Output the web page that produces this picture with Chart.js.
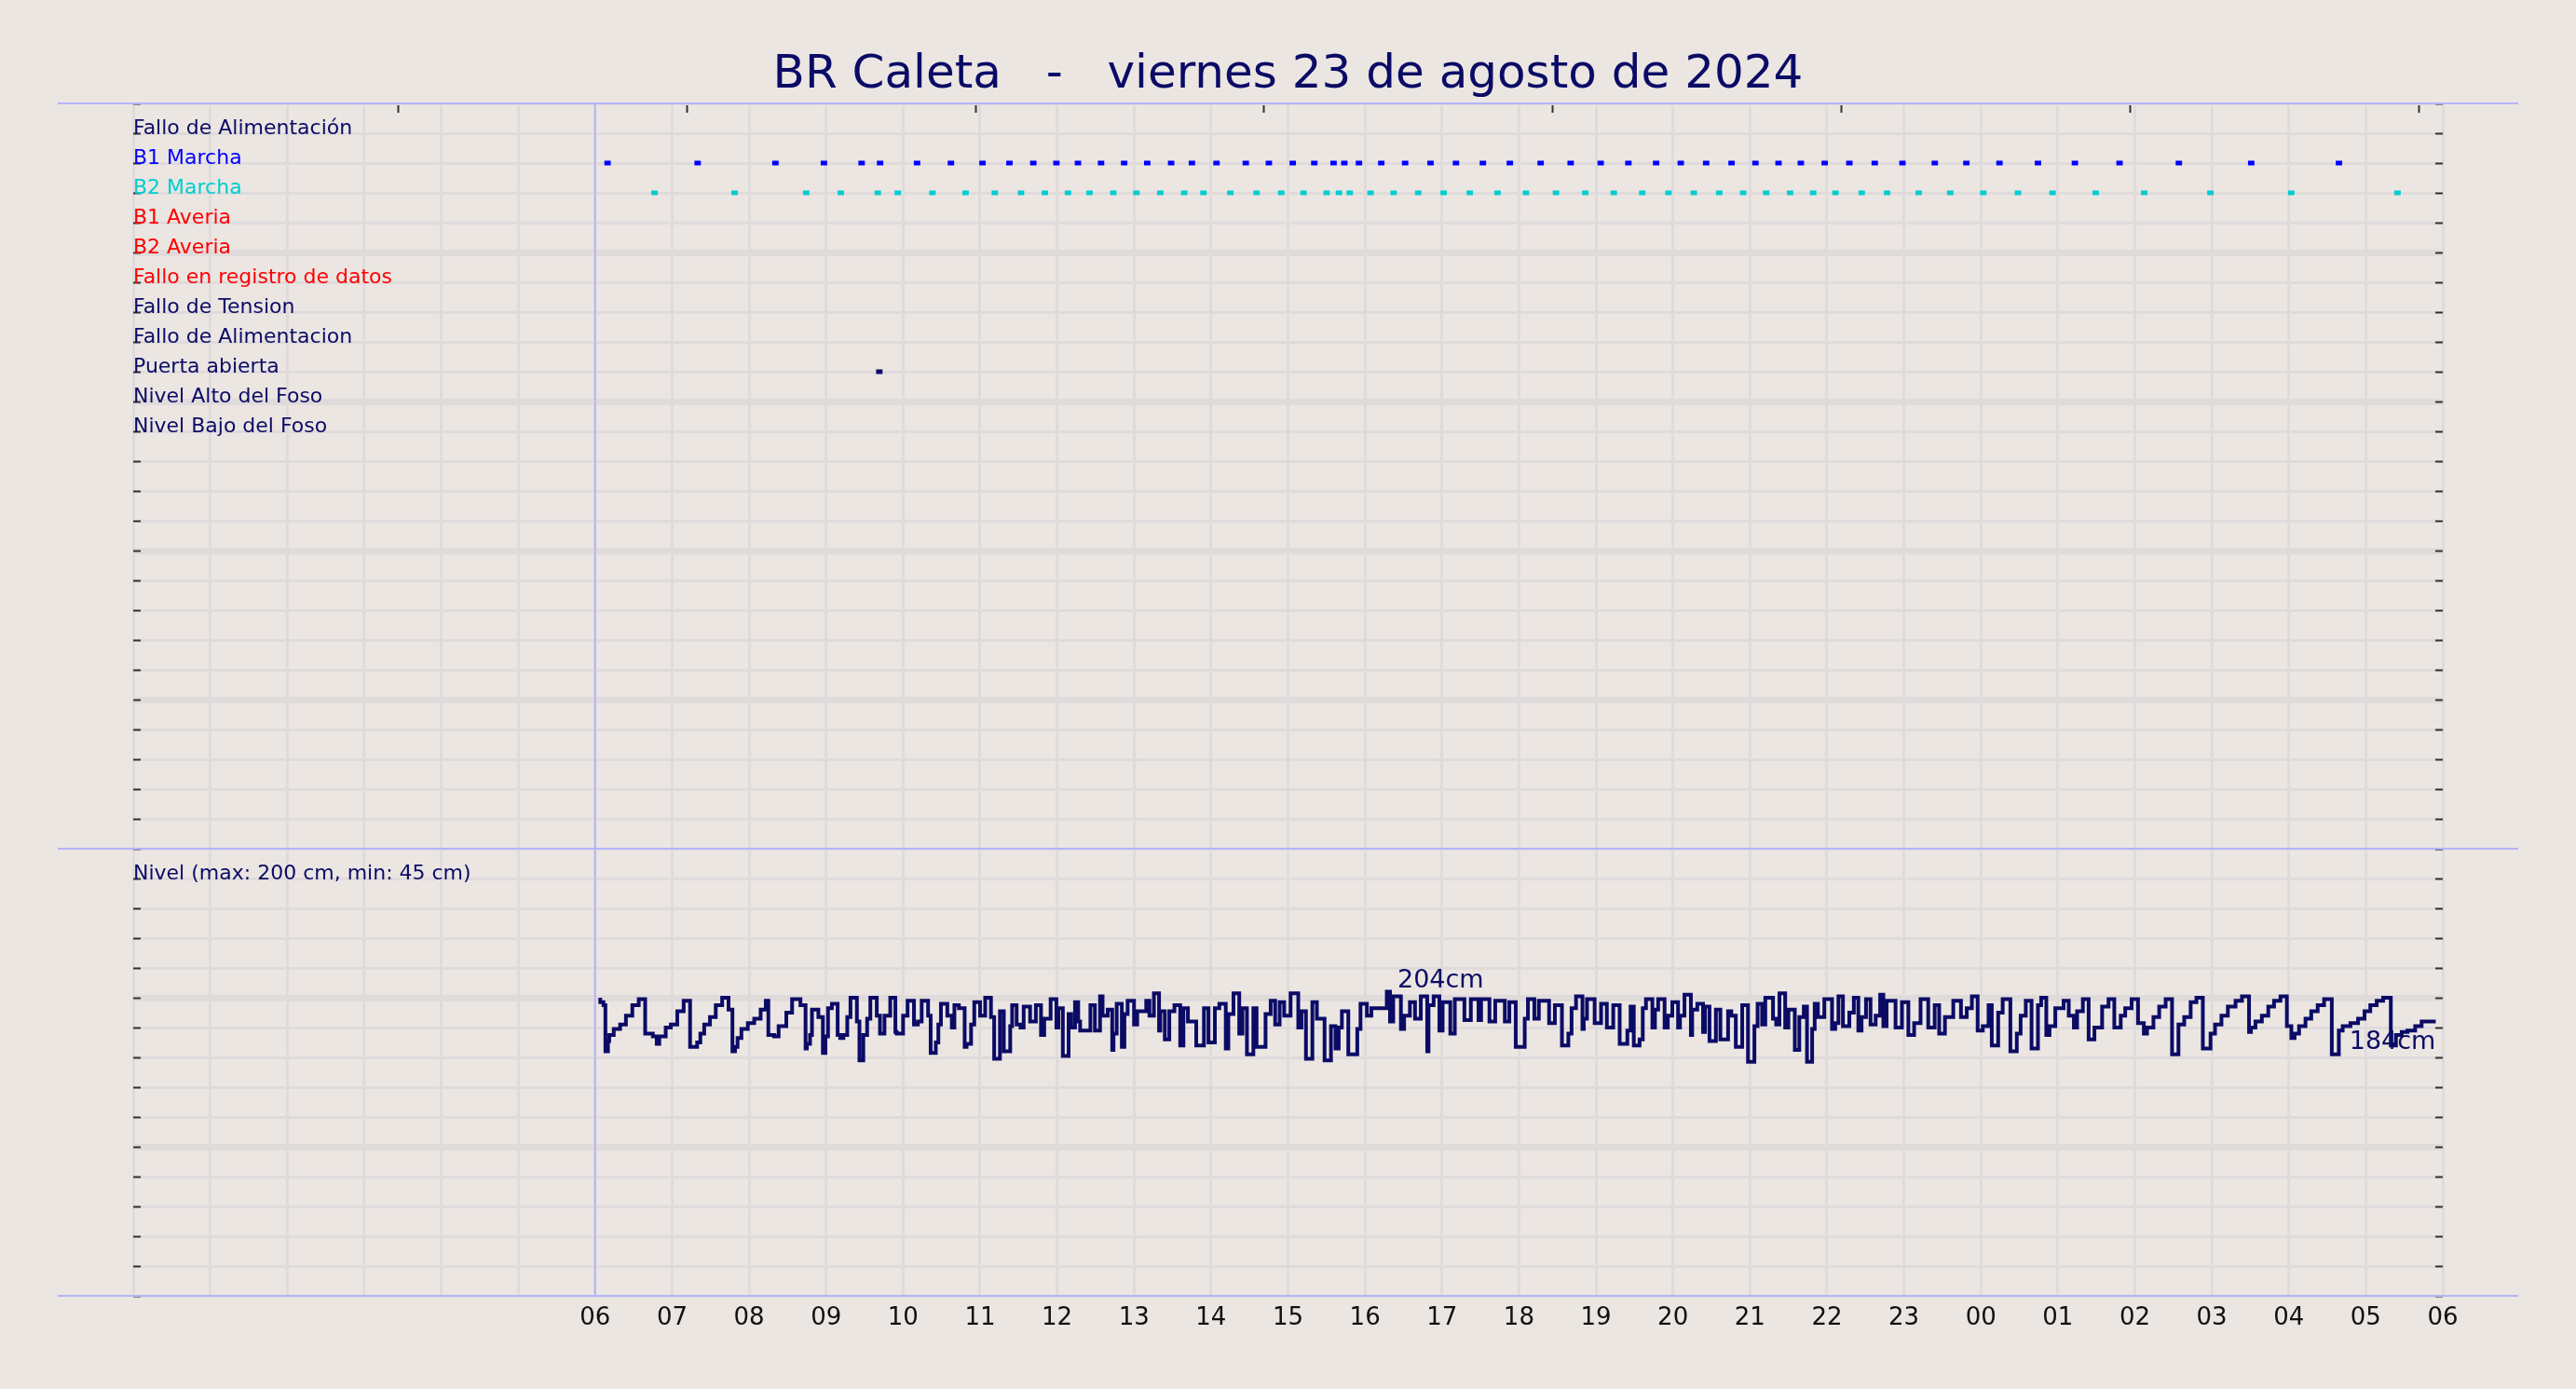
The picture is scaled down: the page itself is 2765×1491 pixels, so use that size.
<!DOCTYPE html>
<html>
<head>
<meta charset="utf-8">
<title>BR Caleta</title>
<script src="https://cdn.jsdelivr.net/npm/chart.js@4.4.1/dist/chart.umd.min.js"></script>
<style>
  html, body { margin: 0; padding: 0; background: #ebe6e2; }
  #wrap { width: 2765px; height: 1491px; position: relative; }
</style>
</head>
<body>
<div id="wrap"><canvas id="grafico"></canvas></div>
<script>
// filas del panel de eventos (de arriba a abajo)
const filas = ['Fallo de Alimentación', 'B1 Marcha', 'B2 Marcha', 'B1 Averia', 'B2 Averia',
  'Fallo en registro de datos', 'Fallo de Tension', 'Fallo de Alimentacion', 'Puerta abierta',
  'Nivel Alto del Foso', 'Nivel Bajo del Foso'];

// etiquetas del eje horario (de 06 a 06 del dia siguiente)
const horasEje = ['06', '07', '08', '09', '10', '11', '12', '13', '14', '15', '16', '17', '18',
  '19', '20', '21', '22', '23', '00', '01', '02', '03', '04', '05', '06'];

// marcas cortas del borde superior (horas)
const marcasSup = [3.44, 7.19, 10.94, 14.69, 18.44, 22.19, 25.94, 29.69];

// arranques de bombas (hora de inicio, horas desde las 00 del dia 23)
const b1Marcha = [6.12, 7.29, 8.30, 8.93, 9.42, 9.66, 10.14, 10.58, 10.99, 11.34, 11.65, 11.95,
  12.23, 12.53, 12.83, 13.13, 13.44, 13.71, 14.03, 14.41, 14.71, 15.02, 15.30, 15.55, 15.69, 15.88,
  16.17, 16.48, 16.81, 17.14, 17.49, 17.84, 18.24, 18.63, 19.02, 19.38, 19.74, 20.06, 20.39, 20.72,
  21.03, 21.33, 21.62, 21.93, 22.25, 22.58, 22.94, 23.36, 23.77, 24.20, 24.70, 25.18, 25.76, 26.53,
  27.47, 28.61];
const b2Marcha = [6.73, 7.77, 8.70, 9.15, 9.63, 9.89, 10.34, 10.77, 11.15, 11.49, 11.80, 12.10,
  12.38, 12.69, 12.99, 13.30, 13.61, 13.86, 14.21, 14.55, 14.87, 15.16, 15.46, 15.62, 15.76, 16.03,
  16.33, 16.65, 16.98, 17.32, 17.68, 18.05, 18.44, 18.82, 19.19, 19.56, 19.90, 20.23, 20.56, 20.87,
  21.17, 21.48, 21.78, 22.07, 22.41, 22.74, 23.15, 23.56, 23.99, 24.44, 24.89, 25.45, 26.08, 26.94,
  27.99, 29.37];
const puertaAbierta = [9.65];
const duracionMin = 5; // largo de cada marca de evento, minutos
const inicioRegistro = 6; // linea vertical de inicio (06:00)

// nivel del foso: minutos desde las 06:00 y valor en cm
const nivelMin = [4, 6.5, 8, 10, 11, 14.5, 19.5, 24, 29, 34, 39, 45, 48, 50, 55, 59, 64, 69, 74, 79.5,
  82, 85, 89.5, 94, 99, 104, 107, 109, 111, 114, 119, 124, 129, 133, 135, 139.5, 143, 149, 153.5, 160,
  164, 165, 167.5, 169, 174, 177.5, 179.5, 181.5, 184.5, 189, 191, 193.5, 196.5, 199, 204, 206, 209,
  212, 214.5, 219.5, 222, 225.5, 230, 234, 235, 240, 243.5, 248.5, 251.5, 254.5, 259.5, 261.5, 265.5,
  267.5, 269.5, 274.5, 278, 280, 283.5, 288, 289.5, 293, 295.5, 300, 304, 308.5, 311, 315.5, 318.5,
  323.5, 325, 328.5, 331.5, 334, 339, 343.5, 347.5, 350, 355, 359.5, 361, 364.5, 369,
  371, 374, 376.5, 378, 386, 389.5, 393.5, 395.5, 399.5, 403, 404, 406.5, 410.5, 412.5, 415, 420,
  422.5, 429.5, 432, 435.5, 439.5, 440.5, 444, 447.5, 451.5, 456, 458.5, 462, 468.5, 474.5, 478, 483,
  486.5, 491.5, 493.5, 497.5, 502, 504.5, 508, 513, 515.5, 522.5, 526.5, 530, 533.5, 537, 542, 548,
  550.5, 554, 559, 562.5, 568.5, 573.5, 577, 579.5, 582, 587, 594, 596.5, 601.5, 605, 617, 619.5, 622,
  628, 630.5, 635, 639, 643.5, 648.5, 649.5, 653.5, 658, 660.5, 666.5, 670, 677.5, 682.5, 688.5, 690.5,
  697, 701.5, 709, 712.5, 717.5, 724.5, 727, 732, 735.5,
  743.5, 748, 753.5, 758.5, 761, 764.5, 769.5, 770.5, 773, 779, 784, 788.5, 793.5, 798.5, 804.5, 807,
  809.5, 814, 816.5, 819, 824, 826, 828.5, 833.5, 836, 839.5, 844, 845.5, 849, 854, 855, 859, 863.5,
  865, 868.5, 873.5, 877, 883, 885.5, 889, 894, 898.5, 903.5, 906, 909.5, 912, 918, 920.5, 923, 927.5,
  930, 935, 938.5, 942, 944.5, 948.5, 950.5, 953, 958, 964, 966.5, 969, 972.5, 977.5, 981, 984.5, 987,
  990.5, 994, 998, 1001.5, 1004, 1006.5, 1013.5, 1018.5, 1023.5, 1028, 1033, 1039, 1044, 1047.5, 1052,
  1058.5, 1064.5, 1069, 1073, 1077.5, 1081.5, 1086, 1088.5, 1093.5, 1097, 1103, 1108,
  1111, 1115, 1119.5, 1124.5, 1127, 1131, 1133.5, 1138, 1144.5, 1148.5, 1152.5, 1155, 1159.5, 1164,
  1168.5, 1174.5, 1179.5, 1184, 1189, 1192.5, 1197.5, 1202.5, 1207, 1209.5, 1214.5, 1219, 1224, 1229,
  1234, 1238.5, 1243.5, 1248, 1253, 1259, 1262.5, 1267.5, 1272.5, 1278.5, 1283.5, 1289, 1290.5, 1294,
  1299, 1304, 1308.5, 1313.5, 1318.5, 1322, 1324.5, 1328, 1333, 1337.5, 1342.5, 1347.5, 1353.5, 1359,
  1362, 1368, 1374, 1379, 1383.5, 1388.5, 1393.5, 1399.5, 1403.5, 1408, 1412.5, 1418.5, 1423.5, 1428.5,
  1434.5];
const nivelCm = [200, 197, 195, 164, 171, 175, 179, 182, 188, 195, 199, 176, 174, 169, 174, 180, 182,
  191, 198, 167, 170, 176, 182, 187, 195, 200, 192, 164, 167, 173, 179, 183, 186, 192, 198, 175, 174,
  181, 190, 199, 195, 166, 169, 175, 192, 187, 163, 174, 193, 196, 175, 173, 175, 187, 200, 184, 158,
  175, 186, 200, 188, 176, 188, 200, 177, 176, 188, 198, 182, 184, 198, 188, 163, 170, 182, 196, 188,
  180, 195, 193, 167, 169, 182, 197, 188, 200, 187, 159, 191, 164, 181, 195, 182, 180, 194, 184, 195,
  175, 186, 199, 180, 193, 161,
  189, 180, 197, 184, 178, 195, 178, 201, 188, 192, 165, 176, 196, 167, 189, 198, 182, 191, 198, 188,
  203, 178, 191, 172, 191, 195, 168, 193, 184, 168, 193, 170, 193, 196, 166, 189, 203, 176, 193, 162,
  193, 167, 189, 198, 182, 197, 188, 203, 180, 191, 159, 197, 186, 158, 181, 166, 180, 191, 162, 179,
  196, 188, 193, 204, 184, 201, 179, 188, 197, 186, 201, 164, 195, 201, 178, 197, 176, 199, 185, 199,
  185, 199, 184, 198, 184, 197, 167, 186, 199, 186,
  198, 183, 195, 168, 176, 193, 201, 179, 186, 199, 183, 196, 180, 195, 169, 178, 194, 168, 172, 193,
  199, 180, 192, 199, 180, 188, 197, 180, 188, 202, 175, 192, 196, 177, 194, 171, 192, 172, 191, 188,
  167, 195, 157, 181, 196, 182, 200, 186, 182, 203, 180, 192, 165, 187, 194, 157, 179, 196, 187, 199,
  179, 183, 201, 181, 190, 200, 178, 187, 199, 182, 188, 202, 181, 198, 180, 197, 175, 183, 199, 180,
  195, 176, 187, 198, 187, 193, 201, 178, 181, 195, 168, 190, 199, 164,
  176, 188, 198, 166, 195, 200, 175, 181, 193, 198, 188, 180, 191, 199, 172, 180, 194, 199, 180, 188,
  193, 199, 183, 176, 180, 187, 194, 199, 162, 182, 187, 197, 200, 166, 176, 182, 188, 194, 198, 201,
  177, 180, 184, 188, 194, 198, 201, 181, 173, 176, 181, 186, 191, 195, 199, 162, 178, 181, 183, 186,
  191, 195, 198, 200, 168, 175, 177, 178, 181, 184, 184];

const azulOscuro = '#0b0b66';
const lavanda = '#b4b4fa';
const rejilla = '#e0dbdb';
const colorFilas = [azulOscuro, '#0000ff', '#00cdd0', '#ff0000', '#ff0000', '#ff0000',
  azulOscuro, azulOscuro, azulOscuro, azulOscuro, azulOscuro];

Chart.defaults.font.family = "'DejaVu Sans', sans-serif";

// cada evento es un trazo corto sobre la linea de su fila
function trazos(horas, fila) {
  const pts = [];
  horas.forEach(h => {
    pts.push({x: h, y: fila});
    pts.push({x: h + duracionMin / 60, y: fila});
    pts.push({x: h + duracionMin / 60, y: null});
  });
  return pts;
}

const nivelPts = nivelMin.map((m, i) => ({x: 6 + m / 60, y: nivelCm[i]}));

function fijarTicks(valores) {
  return scale => { scale.ticks = valores.map(v => ({value: v})); };
}
const rango = (a, b, paso) => { const r = []; for (let v = a; v <= b; v += paso) r.push(v); return r; };
const anchoCero = scale => { scale.width = 0; };

// lineas separadoras, linea de inicio y rotulos del nivel
const decor = {
  id: 'decor',
  beforeDatasetsDraw(chart) {
    const {ctx, chartArea, scales} = chart;
    const x0 = scales.x.getPixelForValue(inicioRegistro);
    ctx.save();
    ctx.strokeStyle = lavanda;
    ctx.lineWidth = 2;
    ctx.beginPath();
    ctx.moveTo(x0, chartArea.top);
    ctx.lineTo(x0, chartArea.bottom);
    ctx.stroke();
    ctx.restore();
  },
  afterDraw(chart) {
    const {ctx, chartArea, scales} = chart;
    ctx.save();
    ctx.strokeStyle = lavanda;
    ctx.lineWidth = 2;
    [chartArea.top, scales.y2.top, chartArea.bottom].forEach(y => {
      ctx.beginPath();
      ctx.moveTo(chartArea.left - 81, y);
      ctx.lineTo(chartArea.right + 81, y);
      ctx.stroke();
    });
    // maximo y ultimo valor del nivel
    let iMax = 0;
    nivelCm.forEach((v, i) => { if (v > nivelCm[iMax]) iMax = i; });
    const iFin = nivelCm.length - 1;
    ctx.fillStyle = azulOscuro;
    ctx.font = "27px 'DejaVu Sans'";
    ctx.textBaseline = 'middle';
    ctx.textAlign = 'left';
    ctx.fillText(nivelCm[iMax] + 'cm', scales.x.getPixelForValue(6 + nivelMin[iMax] / 60) + 8,
      scales.y2.getPixelForValue(nivelCm[iMax]) - 12);
    ctx.textAlign = 'right';
    ctx.fillText(nivelCm[iFin] + 'cm', scales.x.getPixelForValue(6 + nivelMin[iFin] / 60),
      scales.y2.getPixelForValue(nivelCm[iFin]) + 22);
    ctx.restore();
  }
};

new Chart(document.getElementById('grafico'), {
  type: 'line',
  data: {
    datasets: [
      {label: 'Nivel', data: nivelPts, yAxisID: 'y2', stepped: 'after',
        borderColor: azulOscuro, borderWidth: 4, pointRadius: 0},
      {label: 'B1 Marcha', data: trazos(b1Marcha, 2), yAxisID: 'y1',
        borderColor: colorFilas[1], borderWidth: 5, pointRadius: 0, borderCapStyle: 'butt'},
      {label: 'B2 Marcha', data: trazos(b2Marcha, 3), yAxisID: 'y1',
        borderColor: colorFilas[2], borderWidth: 5, pointRadius: 0, borderCapStyle: 'butt'},
      {label: 'Puerta abierta', data: trazos(puertaAbierta, 9), yAxisID: 'y1',
        borderColor: azulOscuro, borderWidth: 5, pointRadius: 0, borderCapStyle: 'butt'}
    ]
  },
  options: {
    responsive: true,
    maintainAspectRatio: false,
    devicePixelRatio: 1,
    animation: false,
    spanGaps: false,
    layout: {padding: {left: 143, right: 143, top: 0, bottom: 40}},
    plugins: {
      legend: {display: false},
      tooltip: {enabled: false},
      title: {
        display: true,
        text: 'BR Caleta   -   viernes 23 de agosto de 2024',
        color: azulOscuro,
        font: {size: 50, weight: 'normal'},
        padding: {top: 51, bottom: 0}
      }
    },
    scales: {
      x: {
        type: 'linear', position: 'bottom', min: 0, max: 30,
        afterBuildTicks: fijarTicks(rango(0, 30, 1)),
        afterFit: scale => { scale.height = 60; },
        border: {display: false},
        grid: {color: rejilla, lineWidth: 3, drawTicks: false},
        ticks: {
          autoSkip: false, maxRotation: 0, padding: 9, color: '#111',
          font: {size: 26},
          callback: v => v >= 6 ? horasEje[v - 6] : ''
        }
      },
      xSup: {
        type: 'linear', position: 'top', min: 0, max: 30,
        afterBuildTicks: fijarTicks(marcasSup),
        afterFit: scale => { scale.height = 0; },
        border: {display: false},
        grid: {drawOnChartArea: false, drawTicks: true, tickLength: -10, tickColor: '#333', tickWidth: 2},
        ticks: {display: false}
      },
      y2: {
        type: 'linear', position: 'left', stack: 'izq', stackWeight: 15, min: 0, max: 300,
        afterBuildTicks: fijarTicks(rango(0, 300, 20)),
        afterFit: anchoCero,
        border: {display: false},
        grid: {
          color: rejilla,
          lineWidth: c => (c.tick.value === 100 || c.tick.value === 200) ? 7 : 3,
          drawTicks: true, tickLength: -8, tickColor: '#333', tickWidth: 2
        },
        ticks: {
          mirror: true, padding: 0, autoSkip: false, labelOffset: -5,
          color: azulOscuro, font: {size: 22},
          callback: v => v === 280 ? 'Nivel (max: 200 cm, min: 45 cm)' : ''
        }
      },
      y1: {
        type: 'linear', position: 'left', stack: 'izq', stackWeight: 25, min: 0, max: 25, reverse: true,
        afterBuildTicks: fijarTicks(rango(0, 25, 1)),
        afterFit: anchoCero,
        border: {display: false},
        grid: {
          color: rejilla,
          lineWidth: c => (c.tick.value % 5 === 0 && c.tick.value > 0 && c.tick.value < 25) ? 7 : 3,
          drawTicks: true, tickLength: -8, tickColor: '#333', tickWidth: 2
        },
        ticks: {
          mirror: true, padding: 0, autoSkip: false, labelOffset: -5,
          font: {size: 22},
          color: c => colorFilas[c.tick.value - 1] || azulOscuro,
          callback: v => filas[v - 1] || ''
        }
      },
      y1d: {
        type: 'linear', position: 'right', stack: 'der', stackWeight: 25, min: 0, max: 25, reverse: true,
        afterBuildTicks: fijarTicks(rango(0, 25, 1)),
        afterFit: anchoCero,
        border: {display: false},
        grid: {drawOnChartArea: false, drawTicks: true, tickLength: -8, tickColor: '#333', tickWidth: 2},
        ticks: {display: false}
      },
      y2d: {
        type: 'linear', position: 'right', stack: 'der', stackWeight: 15, min: 0, max: 300,
        afterBuildTicks: fijarTicks(rango(0, 300, 20)),
        afterFit: anchoCero,
        border: {display: false},
        grid: {drawOnChartArea: false, drawTicks: true, tickLength: -8, tickColor: '#333', tickWidth: 2},
        ticks: {display: false}
      }
    }
  },
  plugins: [decor]
});
</script>
</body>
</html>
